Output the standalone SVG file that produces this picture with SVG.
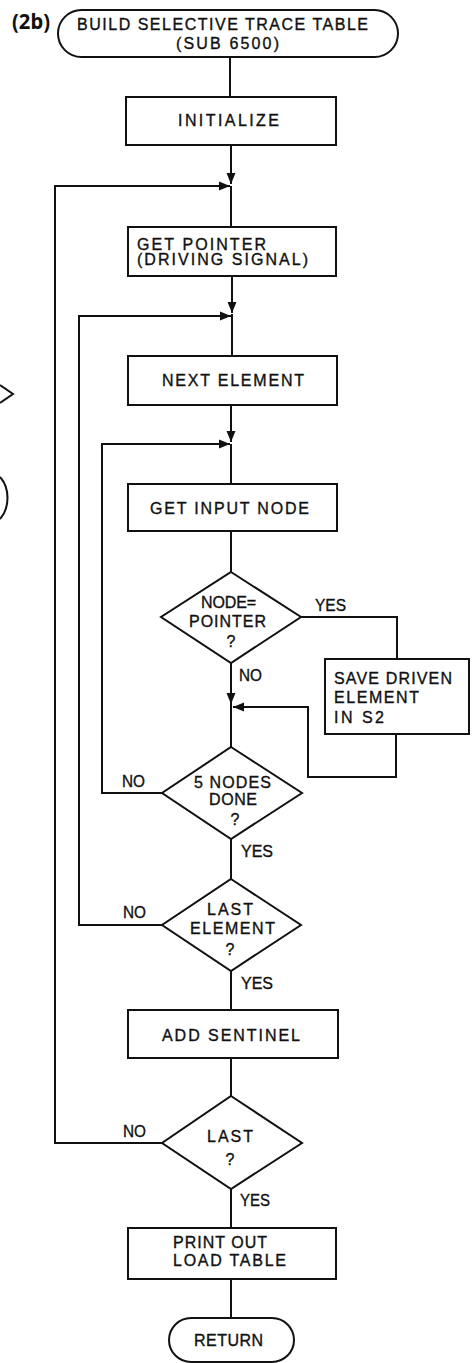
<svg xmlns="http://www.w3.org/2000/svg" width="474" height="1363" viewBox="0 0 474 1363">
<style>
.s{fill:none;stroke:#111;stroke-width:2}
.b{fill:#fff;stroke:#111;stroke-width:2}
text{font-family:"Liberation Sans",Arial,sans-serif;font-size:16px;fill:#111;stroke:#111;stroke-width:0.35}
.c{text-anchor:middle}
.l{font-size:16px}
</style>
<defs>
<marker id="ah" markerUnits="userSpaceOnUse" markerWidth="12" markerHeight="10" refX="11" refY="5" orient="auto">
<path d="M0,0.5 L11,5 L0,9.5 Z" fill="#111"/>
</marker>
</defs>
<rect width="474" height="1363" fill="#fff"/>
<text x="12" y="29" textLength="38" lengthAdjust="spacingAndGlyphs" style="font-family:'Noto Sans','DejaVu Sans',sans-serif;font-weight:bold;font-size:21px;stroke:none">(2b)</text>
<g id="fragments" class="s">
<polyline points="0,385 13,394 0,403"/>
<path d="M0,477 C10,488 10,508 0,519"/>
</g>
<g id="connectors" class="s">
<line x1="230" y1="57" x2="230" y2="97"/>
<line x1="231" y1="145" x2="231" y2="184" marker-end="url(#ah)"/>
<line x1="231" y1="186" x2="231" y2="227"/>
<path d="M162,1143 H55 V186 H230" marker-end="url(#ah)"/>
<line x1="232" y1="276" x2="232" y2="313" marker-end="url(#ah)"/>
<line x1="232" y1="314" x2="232" y2="356"/>
<path d="M162,925 H79 V316 H231" marker-end="url(#ah)"/>
<line x1="231" y1="405" x2="231" y2="442" marker-end="url(#ah)"/>
<line x1="231" y1="444" x2="231" y2="484"/>
<path d="M162,793 H102 V444 H230" marker-end="url(#ah)"/>
<line x1="231" y1="531" x2="231" y2="572"/>
<line x1="231" y1="663" x2="231" y2="704" marker-end="url(#ah)"/>
<line x1="231" y1="704" x2="231" y2="747"/>
<path d="M301,617 H397 V659"/>
<path d="M396,734 V777 H308 V707 H233" marker-end="url(#ah)"/>
<line x1="231" y1="839" x2="231" y2="879"/>
<line x1="231" y1="971" x2="231" y2="1010"/>
<line x1="231" y1="1058" x2="231" y2="1096"/>
<line x1="231" y1="1189" x2="231" y2="1228"/>
<line x1="231" y1="1279" x2="231" y2="1318"/>
</g>
<g id="labels">
<text x="315" y="611" textLength="31" lengthAdjust="spacingAndGlyphs" class="l">YES</text>
<text x="239" y="681" textLength="23" lengthAdjust="spacingAndGlyphs" class="l">NO</text>
<text x="122" y="787" textLength="23" lengthAdjust="spacingAndGlyphs" class="l">NO</text>
<text x="241" y="857" textLength="32" lengthAdjust="spacingAndGlyphs" class="l">YES</text>
<text x="123" y="918" textLength="23" lengthAdjust="spacingAndGlyphs" class="l">NO</text>
<text x="241" y="989" textLength="32" lengthAdjust="spacingAndGlyphs" class="l">YES</text>
<text x="123" y="1137" textLength="23" lengthAdjust="spacingAndGlyphs" class="l">NO</text>
<text x="240" y="1206" textLength="30" lengthAdjust="spacingAndGlyphs" class="l">YES</text>
</g>
<g id="start">
<rect class="b" x="58" y="10" width="340" height="47" rx="23.5"/>
<text x="77" y="30" textLength="291" lengthAdjust="spacing">BUILD SELECTIVE TRACE TABLE</text>
<text x="176" y="48.5" textLength="103" lengthAdjust="spacing">(SUB 6500)</text>
</g>
<g id="initialize">
<rect class="b" x="126" y="97" width="210" height="48"/>
<text x="178" y="126" textLength="101" lengthAdjust="spacing">INITIALIZE</text>
</g>
<g id="get-pointer">
<rect class="b" x="128" y="227" width="208" height="49"/>
<text x="137" y="250" textLength="129" lengthAdjust="spacing">GET POINTER</text>
<text x="137" y="265" textLength="171" lengthAdjust="spacing">(DRIVING SIGNAL)</text>
</g>
<g id="next-element">
<rect class="b" x="128" y="356" width="209" height="49"/>
<text x="162" y="386" textLength="142" lengthAdjust="spacing">NEXT ELEMENT</text>
</g>
<g id="get-input-node">
<rect class="b" x="128" y="484" width="209" height="47"/>
<text x="150" y="514" textLength="159" lengthAdjust="spacing">GET INPUT NODE</text>
</g>
<g id="node-pointer">
<polygon class="b" points="231,572 301,617 231,663 161,617"/>
<text x="201" y="608" textLength="55" lengthAdjust="spacing">NODE=</text>
<text x="189" y="627" textLength="77" lengthAdjust="spacing">POINTER</text>
<text x="231" y="647" class="c">?</text>
</g>
<g id="save-driven">
<rect class="b" x="325" y="659" width="144" height="75"/>
<text x="334" y="684" textLength="118" lengthAdjust="spacing">SAVE DRIVEN</text>
<text x="334" y="703" textLength="85" lengthAdjust="spacing">ELEMENT</text>
<text x="334" y="723" textLength="50" lengthAdjust="spacing">IN S2</text>
</g>
<g id="five-nodes">
<polygon class="b" points="231,747 302,793 231,839 162,793"/>
<text x="194" y="788" textLength="77" lengthAdjust="spacing">5 NODES</text>
<text x="209" y="805" textLength="48" lengthAdjust="spacing">DONE</text>
<text x="235" y="825" class="c">?</text>
</g>
<g id="last-element">
<polygon class="b" points="231,879 301,925 231,971 162,925"/>
<text x="207" y="915" textLength="46" lengthAdjust="spacing">LAST</text>
<text x="190" y="934" textLength="85" lengthAdjust="spacing">ELEMENT</text>
<text x="230" y="955" class="c">?</text>
</g>
<g id="add-sentinel">
<rect class="b" x="128" y="1010" width="210" height="48"/>
<text x="162" y="1041" textLength="138" lengthAdjust="spacing">ADD SENTINEL</text>
</g>
<g id="last">
<polygon class="b" points="231,1096 302,1143 231,1189 162,1143"/>
<text x="207" y="1142" textLength="46" lengthAdjust="spacing">LAST</text>
<text x="230" y="1165" class="c">?</text>
</g>
<g id="print-out">
<rect class="b" x="128" y="1228" width="208" height="51"/>
<text x="173" y="1248" textLength="94" lengthAdjust="spacing">PRINT OUT</text>
<text x="173" y="1266" textLength="113" lengthAdjust="spacing">LOAD TABLE</text>
</g>
<g id="return">
<rect class="b" x="169" y="1318" width="125" height="44" rx="22"/>
<text x="194" y="1346" textLength="69" lengthAdjust="spacing">RETURN</text>
</g>
</svg>
